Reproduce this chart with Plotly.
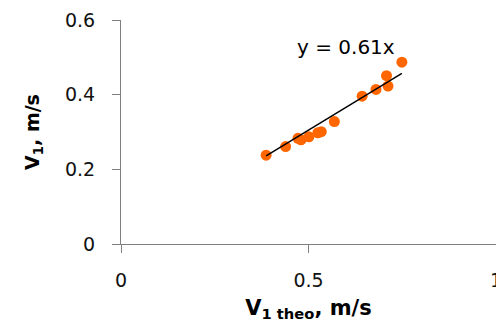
import plotly.graph_objects as go

v_theo = [0.387, 0.439, 0.472, 0.480, 0.501, 0.525, 0.534, 0.569, 0.643, 0.680, 0.708, 0.712, 0.749]
v_meas = [0.238, 0.261, 0.283, 0.279, 0.287, 0.298, 0.301, 0.328, 0.396, 0.414, 0.451, 0.423, 0.487]
slope = 0.61
fit_x = [min(v_theo), max(v_theo)]
fit_y = [slope * x for x in fit_x]

x_ticks = [0, 0.5, 1]
x_labels = ["0", "0.5", "1"]
y_ticks = [0, 0.2, 0.4, 0.6]
y_labels = ["0", "0.2", "0.4", "0.6"]

FONT = "DejaVu Sans, Arial, sans-serif"

fig = go.Figure()
fig.add_trace(go.Scatter(x=v_theo, y=v_meas, mode="markers",
                         marker=dict(color="#FF6600", size=11), showlegend=False))
fig.add_trace(go.Scatter(x=fit_x, y=fit_y, mode="lines",
                         line=dict(color="black", width=1.5), showlegend=False))
fig.add_annotation(x=0.600, y=0.527, text="y = 0.61x", showarrow=False,
                   font=dict(size=20, color="black", family=FONT))

axis_common = dict(showgrid=False, zeroline=False, showline=True, linecolor="#808080",
                   linewidth=1, ticks="outside", tickcolor="#808080", ticklen=8,
                   automargin=False,
                   tickfont=dict(size=19, color="#111111", family=FONT))
fig.update_xaxes(range=[0, 1], tickvals=x_ticks, ticktext=x_labels, ticklabelstandoff=11,
                 ticklabeloverflow="allow",
                 title=dict(text="<b>V<sub>1 theo</sub>, m/s</b>", font=dict(size=21, family=FONT), standoff=10),
                 **axis_common)
fig.update_yaxes(range=[0, 0.6], tickvals=y_ticks, ticktext=y_labels, ticklabelstandoff=13,
                 title=dict(text="<b>V<sub>1</sub>, m/s</b>", font=dict(size=19, family=FONT), standoff=20),
                 **axis_common)
fig.update_layout(width=496, height=329, margin=dict(l=121, r=0, t=20, b=85),
                  paper_bgcolor="white", plot_bgcolor="white",
                  font=dict(family=FONT, color="black"))
fig.write_html("out.html", config={"displayModeBar": False},
               post_script="document.body.style.margin='0';document.body.style.overflow='hidden';")
